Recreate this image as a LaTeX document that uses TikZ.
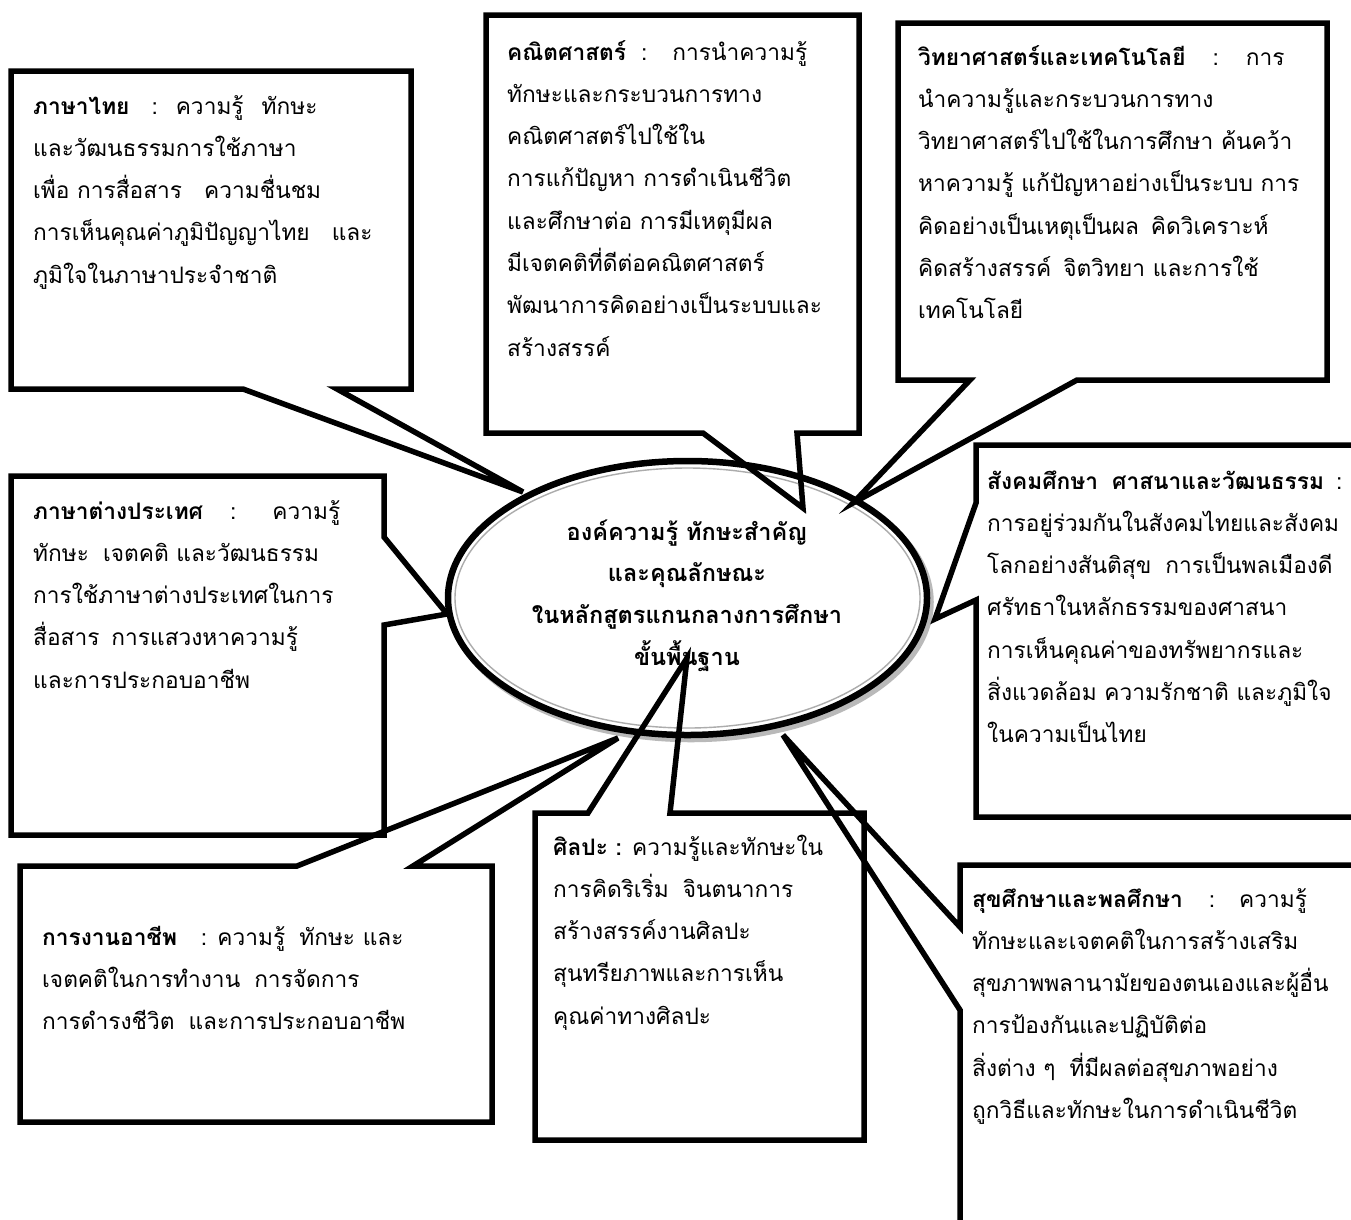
\documentclass[tikz,border=0pt]{standalone}
\usepackage{fontspec}
\setmainfont[Script=Thai]{Loma}
\newcommand\thgap[1]{\hspace*{#1pt}}
\begin{document}
\begin{tikzpicture}[x=1pt,y=-1pt]
\tikzset{
  callout/.style={draw=black, line width=5.5pt, line join=miter},
  bodytext/.style={anchor=base west, inner sep=0pt, font=\fontsize{22.7}{42.3}\selectfont},
  hubtext/.style={anchor=base, inner sep=0pt, font=\bfseries\fontsize{23.5}{41.7}\selectfont},
}
\useasboundingbox (0,0) rectangle (1351,1219);
\clip (0,0) rectangle (1351,1219);
\fill[white] (0,0) rectangle (1351,1219);

% central ellipse
\draw[gray!55, line width=6.5pt] (691,602) ellipse [x radius=239.5, y radius=137];
\draw[black, line width=6.5pt, fill=white] (687.5,598) ellipse [x radius=239.5, y radius=137];
\draw[gray!65, line width=1.4pt] (687.5,598) ellipse [x radius=232.5, y radius=130];
\node[hubtext] (hub) at (687,540) {\begin{tabular}[t]{@{}c@{}}
องค์ความรู้ ทักษะสำคัญ\\
และคุณลักษณะ\\
ในหลักสูตรแกนกลางการศึกษา\\
ขั้นพื้นฐาน
\end{tabular}};

% pointer tips
\coordinate (t1) at (523,492);
\coordinate (t2) at (803,508);
\coordinate (t3) at (853,503);
\coordinate (t4) at (935,619);
\coordinate (t5) at (447,614);
\coordinate (t6) at (618,738);
\coordinate (t7) at (687,658);
\coordinate (t8) at (783,735);

% callouts
\draw[callout] (11,71) -- (411,71) -- (411,389) -- (337,389) -- (t1) -- (243,389) -- (11,389) -- cycle;
\draw[callout] (486,15) -- (859,15) -- (859,433) -- (797,433) -- (t2) -- (703,433) -- (486,433) -- cycle;
\draw[callout] (898,23) -- (1327,23) -- (1327,380) -- (1077,380) -- (t3) -- (970,380) -- (898,380) -- cycle;
\draw[callout] (976,445) -- (1370,445) -- (1370,817) -- (976,817) -- (976,600) -- (t4) -- (976,503) -- cycle;
\draw[callout] (11,476) -- (384,476) -- (384,537) -- (t5) -- (384,625) -- (384,835) -- (11,835) -- cycle;
\draw[callout] (20,866) -- (297,866) -- (t6) -- (413,866) -- (492,866) -- (492,1122) -- (20,1122) -- cycle;
\draw[callout] (535,813) -- (588,813) -- (t7) -- (670,813) -- (864,813) -- (864,1140) -- (535,1140) -- cycle;
\draw[callout] (960,865) -- (1370,865) -- (1370,1240) -- (960,1240) -- (960,1010) -- (t8) -- (960,927) -- cycle;

% texts
\node[bodytext] (thai) at (33,114) {\begin{tabular}[t]{@{}l@{}}
\textbf{ภาษาไทย}\thgap{22}:\thgap{18}ความรู้\thgap{18}ทักษะ\\
และวัฒนธรรมการใช้ภาษา\\
เพื่อ การสื่อสาร\thgap{22}ความชื่นชม\\
การเห็นคุณค่าภูมิปัญญาไทย\thgap{22}และ\\
ภูมิใจในภาษาประจำชาติ
\end{tabular}};

\node[bodytext] (math) at (507,60) {\begin{tabular}[t]{@{}l@{}}
\textbf{คณิตศาสตร์}\thgap{15}:\thgap{25}การนำความรู้\\
ทักษะและกระบวนการทาง\\
คณิตศาสตร์ไปใช้ใน\\
การแก้ปัญหา การดำเนินชีวิต\\
และศึกษาต่อ การมีเหตุมีผล\\
มีเจตคติที่ดีต่อคณิตศาสตร์\\
พัฒนาการคิดอย่างเป็นระบบและ\\
สร้างสรรค์
\end{tabular}};

\node[bodytext] (sci) at (918,65) {\begin{tabular}[t]{@{}l@{}}
\textbf{วิทยาศาสตร์และเทคโนโลยี}\thgap{27}:\thgap{27}การ\\
นำความรู้และกระบวนการทาง\\
วิทยาศาสตร์ไปใช้ในการศึกษา ค้นคว้า\\
หาความรู้ แก้ปัญหาอย่างเป็นระบบ การ\\
คิดอย่างเป็นเหตุเป็นผล\thgap{12}คิดวิเคราะห์\\
คิดสร้างสรรค์\thgap{12}จิตวิทยา และการใช้\\
เทคโนโลยี
\end{tabular}};

\node[bodytext] (soc) at (987,489) {\begin{tabular}[t]{@{}l@{}}
\textbf{สังคมศึกษา\thgap{14}ศาสนาและวัฒนธรรม}\thgap{12}:\\
การอยู่ร่วมกันในสังคมไทยและสังคม\\
โลกอย่างสันติสุข\thgap{14}การเป็นพลเมืองดี\\
ศรัทธาในหลักธรรมของศาสนา\\
การเห็นคุณค่าของทรัพยากรและ\\
สิ่งแวดล้อม ความรักชาติ และภูมิใจ\\
ในความเป็นไทย
\end{tabular}};

\node[bodytext] (lang) at (33,519) {\begin{tabular}[t]{@{}l@{}}
\textbf{ภาษาต่างประเทศ}\thgap{27}:\thgap{36}ความรู้\\
ทักษะ\thgap{14}เจตคติ และวัฒนธรรม\\
การใช้ภาษาต่างประเทศในการ\\
สื่อสาร\thgap{12}การแสวงหาความรู้\\
และการประกอบอาชีพ
\end{tabular}};

\node[bodytext] (work) at (42,945) {\begin{tabular}[t]{@{}l@{}}
\textbf{การงานอาชีพ}\thgap{24}: ความรู้\thgap{14}ทักษะ และ\\
เจตคติในการทำงาน\thgap{14}การจัดการ\\
การดำรงชีวิต\thgap{14}และการประกอบอาชีพ
\end{tabular}};

\node[bodytext] (art) at (553,855) {\begin{tabular}[t]{@{}l@{}}
\textbf{ศิลปะ :} ความรู้และทักษะใน\\
การคิดริเริ่ม\thgap{14}จินตนาการ\\
สร้างสรรค์งานศิลปะ\\
สุนทรียภาพและการเห็น\\
คุณค่าทางศิลปะ
\end{tabular}};

\node[bodytext] (health) at (972,907) {\begin{tabular}[t]{@{}l@{}}
\textbf{สุขศึกษาและพลศึกษา}\thgap{26}:\thgap{24}ความรู้\\
ทักษะและเจตคติในการสร้างเสริม\\
สุขภาพพลานามัยของตนเองและผู้อื่น\\
การป้องกันและปฏิบัติต่อ\\
สิ่งต่าง ๆ\thgap{14}ที่มีผลต่อสุขภาพอย่าง\\
ถูกวิธีและทักษะในการดำเนินชีวิต
\end{tabular}};
\end{tikzpicture}
\end{document}
